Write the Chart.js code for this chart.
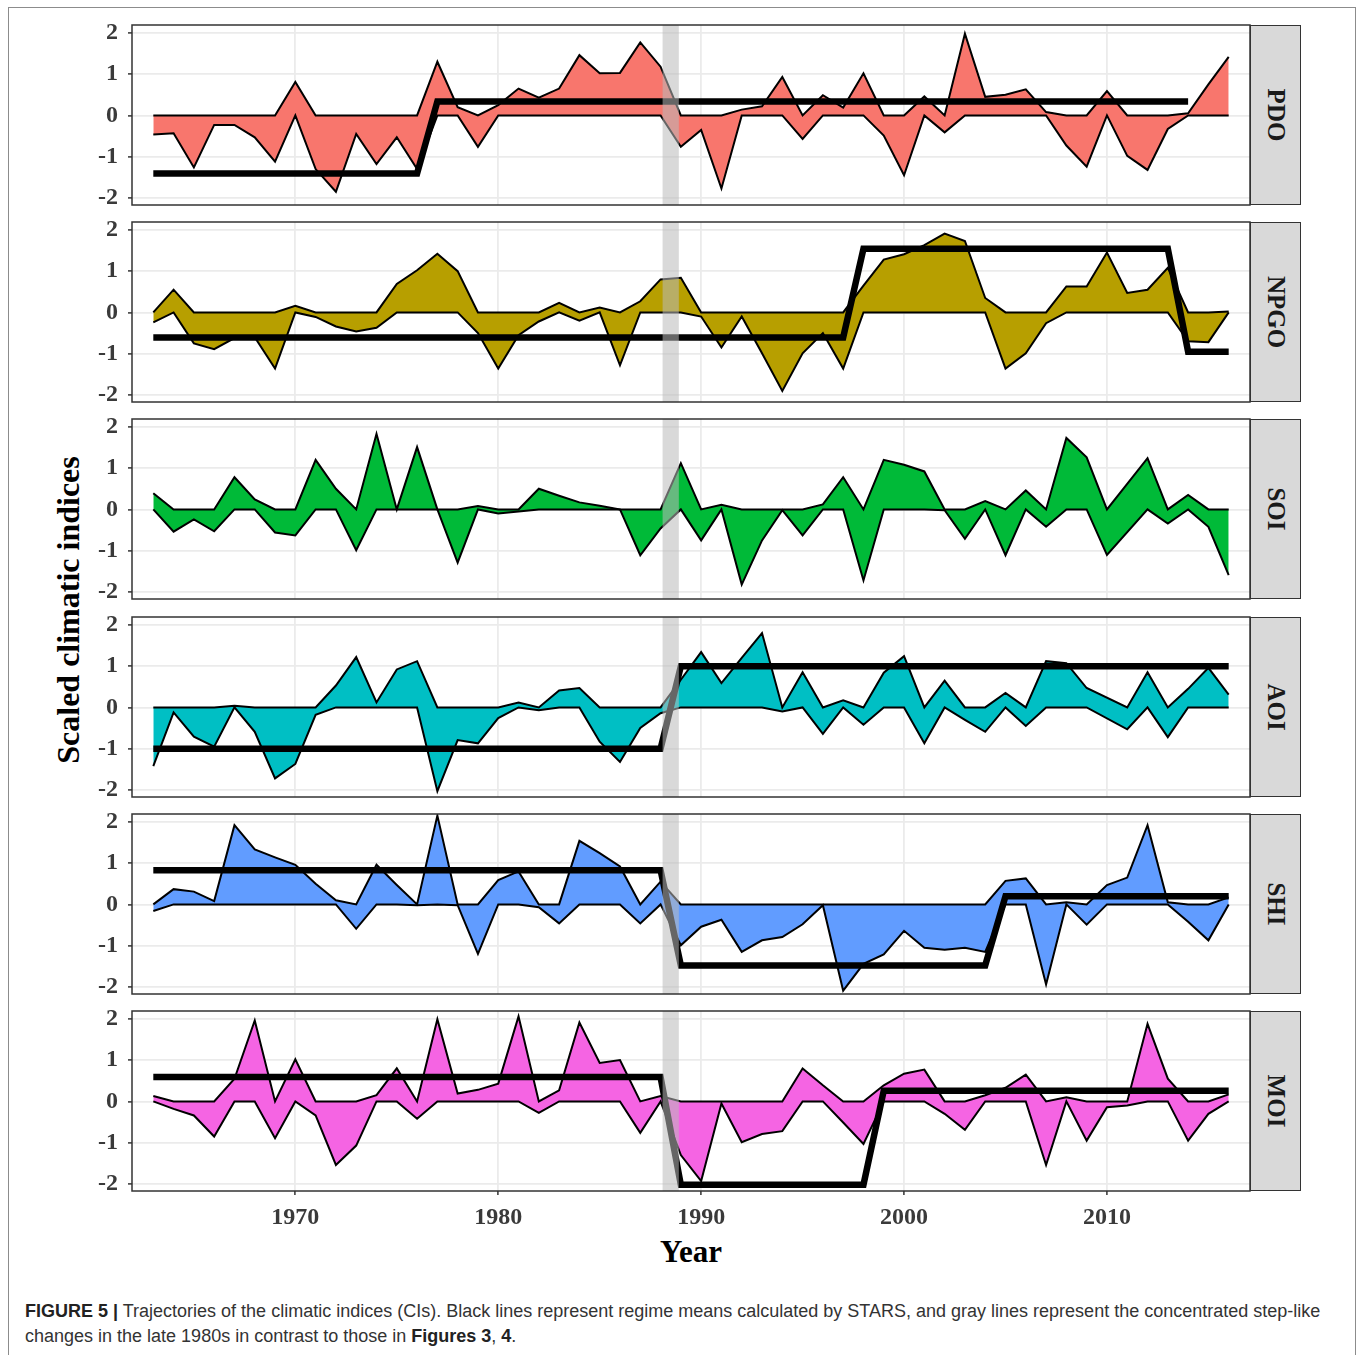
<!DOCTYPE html>
<html>
<head>
<meta charset="utf-8">
<script src="https://cdn.jsdelivr.net/npm/chart.js@4.4.1/dist/chart.umd.min.js"></script>
<style>
  body { margin: 0; background: #fff; width: 1357px; height: 1355px; position: relative; overflow: hidden; }
  .frame { position: absolute; left: 8px; top: 7px; width: 1346px; height: 1400px; border: 1px solid #8c8c8c; }
  canvas { position: absolute; left: 0; }
  .strip { position: absolute; left: 1250px; width: 51px; height: 180px; background: #d9d9d9; border: 1.5px solid #333; box-sizing: border-box; }
  .strip span { position: absolute; left: 50%; top: 50%; transform: translate(-50%, -50%) rotate(90deg);
    font: bold 25px "Liberation Serif", serif; color: #1a1a1a; white-space: nowrap; }
  .ytitle { position: absolute; left: 68px; top: 610px; transform: translate(-50%, -50%) rotate(-90deg);
    font: bold 32px "Liberation Serif", serif; color: #000; white-space: nowrap; }
  .xtitle { position: absolute; left: 691px; top: 1252px; transform: translate(-50%, -50%);
    font: bold 31px "Liberation Serif", serif; color: #000; }
  .caption { position: absolute; left: 25px; top: 1299px; font: 18px "Liberation Sans", Arial, sans-serif;
    line-height: 25px; color: #333; white-space: nowrap; }
  .caption b { color: #222; }
</style>
</head>
<body>
<div class="frame"></div>
<div class="ytitle">Scaled climatic indices</div>
<div class="xtitle">Year</div>
<div class="caption"><b>FIGURE 5 |</b> Trajectories of the climatic indices (CIs). Black lines represent regime means calculated by STARS, and gray lines represent the concentrated step-like<br>changes in the late 1980s in contrast to those in <b>Figures 3</b>, <b>4</b>.</div>

<script>
// years 1963 - 2016
var years = [];
for (var y = 1963; y <= 2016; y++) years.push(y);

var indexNames = ['PDO', 'NPGO', 'SOI', 'AOI', 'SHI', 'MOI'];
var fillColors = ['#F8766D', '#B79F00', '#00BA38', '#00BFC4', '#619CFF', '#F564E3'];

var pdo = [-0.46, -0.43, -1.26, -0.23, -0.23, -0.53, -1.12, 0.81, -1.3, -1.85,
  -0.45, -1.18, -0.53, -1.3, 1.3, 0.2, -0.76, 0.25, 0.65, 0.43,
  0.65, 1.46, 1.02, 1.03, 1.77, 1.18, -0.76, -0.35, -1.77, 0.14,
  0.22, 0.93, -0.57, 0.49, 0.19, 1.02, -0.49, -1.45, 0.46, -0.41,
  1.98, 0.45, 0.5, 0.63, 0.08, -0.73, -1.24, 0.59, -0.98, -1.32,
  -0.33, 0.05, 0.75, 1.42];
var npgo = [-0.24, 0.55, -0.75, -0.89, -0.62, -0.6, -1.36, 0.16, -0.11, -0.34,
  -0.46, -0.37, 0.69, 1.02, 1.42, 1.0, -0.5, -1.36, -0.55, -0.22,
  0.23, -0.2, 0.12, -1.28, 0.27, 0.8, 0.84, -0.1, -0.85, -0.1,
  -0.99, -1.9, -0.99, -0.5, -1.36, 0.65, 1.28, 1.41, 1.63, 1.91,
  1.73, 0.35, -1.36, -0.99, -0.26, 0.63, 0.63, 1.45, 0.47, 0.55,
  1.08, -0.7, -0.72, 0.02];
var soi = [0.39, -0.54, -0.24, -0.53, 0.78, 0.24, -0.56, -0.63, 1.2, 0.5,
  -0.99, 1.83, 0.0, 1.51, 0.0, -1.29, 0.08, -0.1, -0.05, 0.5,
  0.33, 0.17, 0.09, 0.0, -1.11, -0.46, 1.12, -0.75, 0.11, -1.82,
  -0.75, -0.02, -0.63, 0.12, 0.78, -1.72, 1.2, 1.08, 0.92, -0.02,
  -0.71, 0.2, -1.11, 0.46, -0.42, 1.73, 1.26, -1.1, null, 1.24,
  -0.34, 0.35, -0.42, -1.59];
var aoi = [-1.42, -0.12, -0.71, -0.95, 0.04, -0.59, -1.72, -1.37, -0.18, 0.53,
  1.22, 0.12, 0.92, 1.12, -2.03, -0.79, -0.87, -0.26, 0.12, -0.07,
  0.41, 0.47, -0.83, -1.32, -0.5, -0.14, 0.67, 1.34, 0.59, 1.2,
  1.8, -0.1, 0.85, -0.64, 0.17, -0.42, 0.84, 1.24, -0.87, 0.65,
  -0.3, -0.59, 0.35, -0.45, 1.12, 1.07, 0.47, null, -0.53, 0.85,
  -0.72, 0.45, 0.96, 0.31];
var shi = [-0.16, 0.37, 0.31, 0.08, 1.92, 1.33, 1.14, 0.96, 0.5, 0.1,
  -0.59, 0.96, 0.47, -0.02, 2.15, -0.02, -1.2, 0.59, 0.8, -0.07,
  -0.46, 1.54, 1.24, 0.92, -0.46, 0.55, -0.99, -0.54, -0.37, -1.15,
  -0.87, -0.79, -0.48, -0.02, -2.09, -1.44, -1.21, -0.64, -1.05, -1.1,
  -1.05, -1.15, 0.57, 0.63, -1.94, 0.05, -0.49, 0.47, 0.65, 1.92,
  0.05, -0.42, -0.87, 0.17];
var moi = [0.13, -0.18, -0.34, -0.85, 0.55, 1.96, -0.89, 1.02, -0.34, -1.54,
  -1.07, 0.15, 0.8, -0.42, 1.99, 0.19, 0.28, 0.43, 2.06, -0.28,
  0.27, 1.91, 0.93, 1.0, -0.76, 0.13, -1.3, -1.93, -0.05, -0.99,
  -0.79, -0.72, 0.8, 0.39, -0.51, -1.03, 0.39, 0.67, 0.77, -0.3,
  -0.69, 0.15, 0.33, 0.65, -1.54, 0.1, -0.95, -0.14, -0.1, 1.88,
  0.55, -0.95, -0.3, 0.17];

// STARS regimes: [first year, last year, regime mean]
var pdoRegime = [[1963, 1976, -1.41], [1977, 2014, 0.34]];
var npgoRegime = [[1963, 1997, -0.61], [1998, 2013, 1.54], [2014, 2016, -0.95]];
var soiRegime = [];
var aoiRegime = [[1963, 1988, -1.0], [1989, 2016, 1.0]];
var shiRegime = [[1963, 1988, 0.83], [1989, 2004, -1.48], [2005, 2016, 0.2]];
var moiRegime = [[1963, 1988, 0.59], [1989, 1998, -2.02], [1999, 2016, 0.26]];

var seriesList = [pdo, npgo, soi, aoi, shi, moi];
var regimeList = [pdoRegime, npgoRegime, soiRegime, aoiRegime, shiRegime, moiRegime];

// gray band for the late-1980s shift
var bandStart = 1988.1;
var bandEnd = 1988.9;

var xTicks = [1970, 1980, 1990, 2000, 2010];
var yTicks = [-2, -1, 0, 1, 2];
var xMin = 1961.95, xMax = 2017.05;
var yMin = -2.17, yMax = 2.19;

var panelTops = [25, 222, 419, 617, 814, 1011];
var panelH = 180;
var pad = 12;
var xAxisH = 46;

var bandPlugin = {
  id: 'band',
  afterDatasetsDraw: function(chart) {
    var ctx = chart.ctx, a = chart.chartArea, xs = chart.scales.x;
    var x0 = xs.getPixelForValue(bandStart), x1 = xs.getPixelForValue(bandEnd);
    ctx.save();
    ctx.fillStyle = 'rgba(185,185,185,0.55)';
    ctx.fillRect(x0, a.top, x1 - x0, a.bottom - a.top);
    ctx.restore();
  },
  afterDraw: function(chart) {
    var ctx = chart.ctx, a = chart.chartArea;
    ctx.save();
    ctx.strokeStyle = '#333';
    ctx.lineWidth = 1.5;
    ctx.strokeRect(a.left, a.top, a.right - a.left, a.bottom - a.top);
    ctx.restore();
  }
};

// keep tick labels from shrinking the plot area
function noPad(s) {
  s.paddingTop = 0; s.paddingBottom = 0; s.paddingLeft = 0; s.paddingRight = 0;
}

var tickFont = { family: 'Liberation Serif', weight: 'bold', size: 24 };

indexNames.forEach(function(name, i) {
  var last = i === indexNames.length - 1;
  var vals = seriesList[i];

  var upper = [], lower = [];
  years.forEach(function(yr, k) {
    if (vals[k] === null) return;
    upper.push({ x: yr, y: Math.max(0, vals[k]) });
    lower.push({ x: yr, y: Math.min(0, vals[k]) });
  });
  var regime = [];
  regimeList[i].forEach(function(seg) {
    for (var yr = seg[0]; yr <= seg[1]; yr++) regime.push({ x: yr, y: seg[2] });
  });

  var canvas = document.createElement('canvas');
  canvas.width = 1252;
  canvas.height = panelH + pad + (last ? xAxisH : pad);
  canvas.style.top = (panelTops[i] - pad) + 'px';
  document.body.appendChild(canvas);

  var strip = document.createElement('div');
  strip.className = 'strip';
  strip.style.top = panelTops[i] + 'px';
  strip.innerHTML = '<span>' + name + '</span>';
  document.body.appendChild(strip);

  new Chart(canvas, {
    type: 'line',
    data: {
      datasets: [
        { data: lower, borderColor: '#000', borderWidth: 2, fill: false, pointRadius: 0, order: 1 },
        { data: upper, borderColor: '#000', borderWidth: 2, backgroundColor: fillColors[i], fill: '-1', pointRadius: 0, order: 1 },
        { data: regime, borderColor: '#000', borderWidth: 6.5, fill: false, pointRadius: 0, order: 0,
          borderJoinStyle: 'miter', borderCapStyle: 'butt' }
      ]
    },
    options: {
      responsive: false,
      animation: false,
      layout: { autoPadding: false, padding: { top: pad, bottom: last ? 0 : pad, left: 0, right: 2 } },
      elements: { line: { tension: 0 } },
      plugins: { legend: { display: false }, tooltip: { enabled: false }, filler: { drawTime: 'beforeDatasetsDraw' } },
      scales: {
        x: {
          type: 'linear', min: xMin, max: xMax,
          afterBuildTicks: function(s) { s.ticks = xTicks.map(function(v) { return { value: v }; }); },
          afterFit: function(s) { s.height = last ? xAxisH : 0; noPad(s); },
          border: { display: false },
          grid: { color: '#ebebeb', lineWidth: 1.8, drawTicks: last, tickLength: 4, tickColor: '#333', tickWidth: 1.5 },
          ticks: { display: last, padding: 8, color: '#3a3a3a', font: tickFont, maxRotation: 0,
            callback: function(v) { return String(v); } }
        },
        y: {
          min: yMin, max: yMax,
          afterBuildTicks: function(s) { s.ticks = yTicks.map(function(v) { return { value: v }; }); },
          afterFit: function(s) { s.width = 132; noPad(s); },
          border: { display: false },
          grid: { color: '#ebebeb', lineWidth: 1.8, tickLength: 4, tickColor: '#333', tickWidth: 1.5 },
          ticks: { padding: 10, color: '#3a3a3a', font: tickFont,
            callback: function(v) { return String(v); } }
        }
      }
    },
    plugins: [bandPlugin]
  });
});
</script>
</body>
</html>
